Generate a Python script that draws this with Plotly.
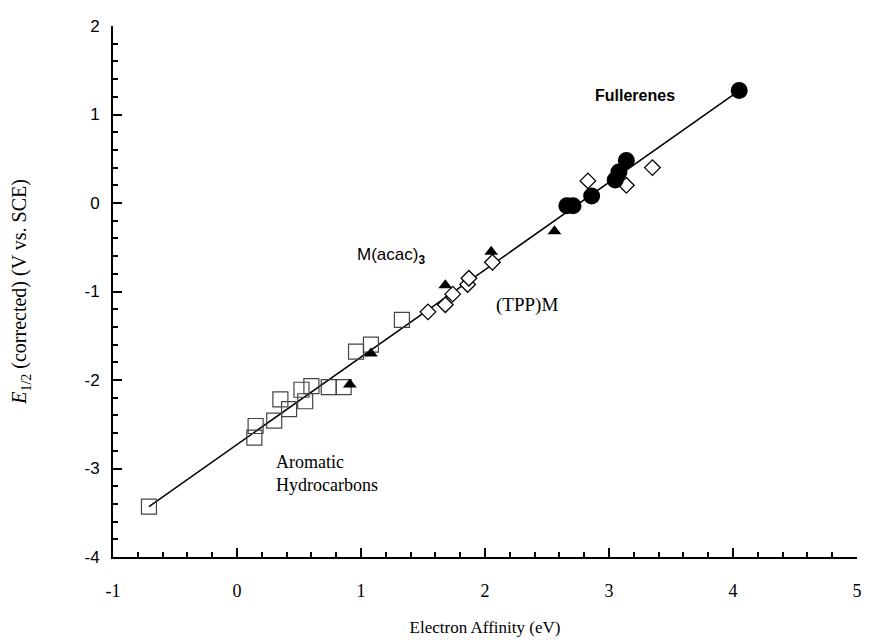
import plotly.graph_objects as go

# Aromatic hydrocarbons (open squares)
arom_ea = [-0.71, 0.14, 0.15, 0.30, 0.35, 0.42, 0.52, 0.55, 0.60, 0.74, 0.86, 0.96, 1.08, 1.33]
arom_e = [-3.43, -2.65, -2.52, -2.46, -2.22, -2.33, -2.11, -2.24, -2.07, -2.08, -2.08, -1.68, -1.60, -1.32]

# (TPP)M (open diamonds)
tpp_ea = [1.54, 1.68, 1.74, 1.86, 1.87, 2.06, 2.83, 3.14, 3.35]
tpp_e = [-1.23, -1.15, -1.03, -0.92, -0.85, -0.67, 0.25, 0.20, 0.40]

# M(acac)3 (filled triangles)
acac_ea = [0.91, 1.08, 1.68, 2.05, 2.56]
acac_e = [-2.05, -1.70, -0.93, -0.55, -0.32]

# Fullerenes (filled circles)
full_ea = [2.66, 2.71, 2.86, 3.05, 3.08, 3.14, 4.05]
full_e = [-0.03, -0.03, 0.08, 0.26, 0.35, 0.48, 1.27]

# regression line end points
fit_ea = [-0.71, 4.05]
fit_e = [-3.43, 1.27]

# tick labels
x_ticks = [-1, 0, 1, 2, 3, 4, 5]
x_labels = ["-1", "0", "1", "2", "3", "4", "5"]
y_ticks = [-4, -3, -2, -1, 0, 1, 2]
y_labels = ["-4", "-3", "-2", "-1", "0", "1", "2"]

fig = go.Figure()
fig.add_trace(go.Scatter(x=fit_ea, y=fit_e, mode="lines",
                         line=dict(color="black", width=1.5), showlegend=False))
fig.add_trace(go.Scatter(x=arom_ea, y=arom_e, mode="markers",
                         marker=dict(symbol="square-open", size=15, color="#444444",
                                     line=dict(width=1.2)), showlegend=False))
fig.add_trace(go.Scatter(x=tpp_ea, y=tpp_e, mode="markers",
                         marker=dict(symbol="diamond", size=12, color="white",
                                     line=dict(color="black", width=1.3)), showlegend=False))
fig.add_trace(go.Scatter(x=acac_ea, y=acac_e, mode="markers",
                         marker=dict(symbol="triangle-up", size=12, color="black"),
                         showlegend=False))
fig.add_trace(go.Scatter(x=full_ea, y=full_e, mode="markers",
                         marker=dict(symbol="circle", size=17, color="black"),
                         showlegend=False))

serif = "Liberation Serif"
sans = "Liberation Sans"

ann = [
    dict(x=3.55, y=1.21, text="<b>Fullerenes</b>", xanchor="right",
         font=dict(family=sans, size=16)),
    dict(x=1.24, y=-0.60, text="M(acac)<sub><b>3</b></sub>", font=dict(family=sans, size=17)),
    dict(x=2.34, y=-1.15, text="(TPP)M", font=dict(family=serif, size=19)),
    dict(x=0.30, y=-3.06, text="Aromatic<br>Hydrocarbons", align="left", xanchor="left",
         font=dict(family=serif, size=18)),
]
for a in ann:
    fig.add_annotation(showarrow=False, xref="x", yref="y", font_color="black", **a)

fig.update_layout(
    width=863, height=635,
    margin=dict(l=105, r=9, t=13, b=86),
    plot_bgcolor="white", paper_bgcolor="white",
    xaxis=dict(range=[-1, 5], tickvals=x_ticks, ticktext=x_labels, ticks="inside", ticklen=9,
               tickwidth=1.5, tickcolor="black", showline=True, linecolor="black", linewidth=2,
               showgrid=False, zeroline=False, ticklabeloverflow="allow", ticklabelstandoff=16,
               minor=dict(ticks="inside", ticklen=5, dtick=0.2, tickcolor="black", tickwidth=1.5),
               tickfont=dict(family=serif, size=18, color="black"),
               title=dict(text="Electron Affinity (eV)", font=dict(family=serif, size=17, color="black"),
                          standoff=22)),
    yaxis=dict(range=[-4, 2], tickvals=y_ticks, ticktext=y_labels, ticks="inside", ticklen=9,
               tickwidth=1.5, tickcolor="black", showline=True, linecolor="black", linewidth=2,
               showgrid=False, zeroline=False, ticklabelstandoff=8,
               minor=dict(ticks="inside", ticklen=5, dtick=0.2, tickcolor="black", tickwidth=1.5),
               tickfont=dict(family=sans, size=17, color="black"),
               title=dict(text="<i>E</i><sub>1/2</sub> (corrected) (V vs. SCE)",
                          font=dict(family=serif, size=20, color="black"), standoff=52)),
)

fig.write_html("out.html")
